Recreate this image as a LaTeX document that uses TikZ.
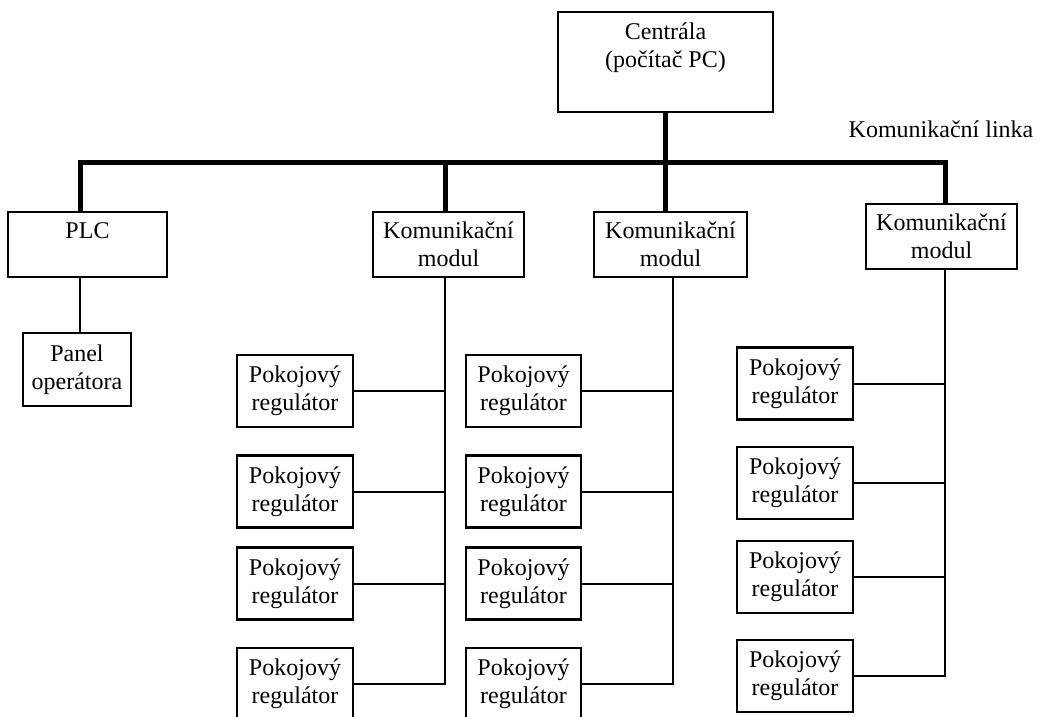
\documentclass[tikz,border=0pt]{standalone}
\usepackage{fontspec}
\setmainfont{Liberation Serif}
\begin{document}
\begin{tikzpicture}[x=1pt,y=-1pt,
  box/.style={draw, line width=2.5pt, rectangle, inner sep=0pt, align=center,
              font=\fontsize{24}{28}\selectfont},
  lbl/.style={inner sep=0pt, align=center, font=\fontsize{24}{28}\selectfont},
  reg/.style={box, minimum width=116pt, minimum height=72pt},
  cmod/.style={box, minimum height=65pt},
  wire/.style={line width=2pt},
  bus/.style={line width=5pt, line join=miter, line cap=butt}]
\useasboundingbox (0,0) rectangle (1047,717);

% central computer and bus label
\node[box, minimum width=215pt, minimum height=100pt] (central) at (665.5,62) {};
\node[lbl] (centraltext) at (665.5,48) {Centrála\\(počítač PC)};
\node[lbl] (linka) at (941,129) {Komunikační linka};

% second level
\node[box, minimum width=159pt, minimum height=65pt] (plc) at (87.5,244.5) {};
\node[lbl] (plctext) at (87.5,231) {PLC};
\node[box, minimum width=108pt, minimum height=73pt] (panel) at (77,369.5) {Panel\\operátora};
\node[cmod, minimum width=151pt] (cm1) at (448.5,244.5) {Komunikační\\modul};
\node[cmod, minimum width=153pt] (cm2) at (670.5,244.5) {Komunikační\\modul};
\node[cmod, minimum width=151pt] (cm3) at (941.5,236.5) {Komunikační\\modul};

% room controllers
\foreach \i/\y in {1/391,2/491.5,3/583.5,4/684} {
  \node[reg] (ra\i) at (295,\y) {Pokojový\\regulátor};
  \node[reg, minimum width=115pt] (rb\i) at (523.5,\y) {Pokojový\\regulátor};
}
\foreach \i/\y in {1/383.5,2/483,3/577,4/676}
  \node[reg] (rc\i) at (795,\y) {Pokojový\\regulátor};

% communication bus
\coordinate (busL) at (80,162);
\coordinate (busR) at (945,162);
\coordinate (busM) at (445,162);
\draw[bus] (plc.north -| busL) -- (busL) -- (busR) -- (cm3.north -| busR);
\draw[bus] (central.south) -- (cm2.north -| central.south);
\draw[bus] (busM) -- (cm1.north -| busM);

% local lines
\coordinate (e1) at (445,0);
\coordinate (e2) at (673,0);
\coordinate (e3) at (945,0);
\draw[wire] (plc.south -| busL) -- (panel.north -| busL);
\draw[wire] (cm1.south -| e1) -- (ra4.east -| e1) -- (ra4.east);
\draw[wire] (cm2.south -| e2) -- (rb4.east -| e2) -- (rb4.east);
\draw[wire] (cm3.south -| e3) -- (rc4.east -| e3) -- (rc4.east);
\foreach \i in {1,2,3} {
  \draw[wire] (ra\i.east) -- (ra\i.east -| e1);
  \draw[wire] (rb\i.east) -- (rb\i.east -| e2);
  \draw[wire] (rc\i.east) -- (rc\i.east -| e3);
}
\end{tikzpicture}
\end{document}
